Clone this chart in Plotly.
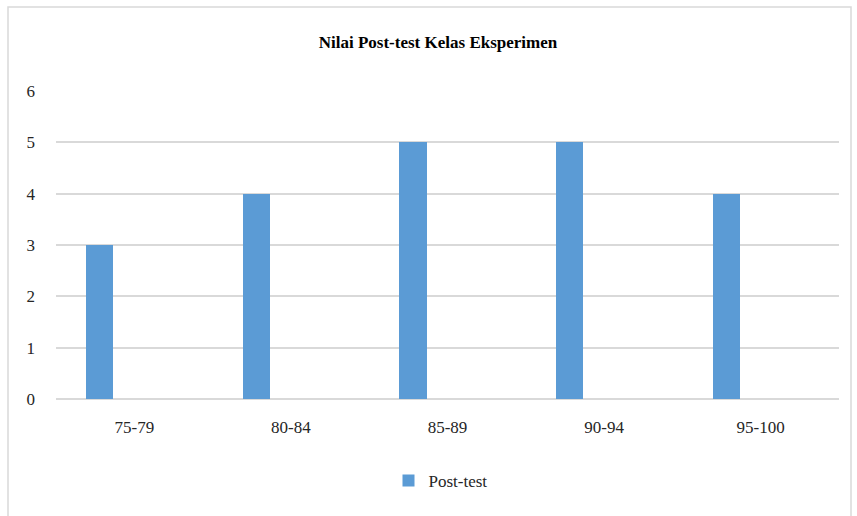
import plotly.graph_objects as go

categories = ["75-79", "80-84", "85-89", "90-94", "95-100"]
post_test = [3, 4, 5, 5, 4]
y_ticks = [0, 1, 2, 3, 4, 5, 6]

W, H = 857, 516
L, R, T, B = 56, 18, 91, 117
pw = W - L - R
ph = H - T - B
SERIF = "'Liberation Serif', 'DejaVu Serif', serif"

fig = go.Figure()
fig.add_trace(go.Bar(
    x=categories, y=post_test, name="Post-test",
    marker=dict(color="#5B9BD5", line=dict(width=0)),
    width=0.173, offset=-0.307,
))

def px_x(p):
    return (p - L) / pw

def px_y(p):
    return (H - B - p) / ph

fig.update_layout(
    width=W, height=H,
    margin=dict(l=L, r=R, t=T, b=B),
    paper_bgcolor="white", plot_bgcolor="white",
    font=dict(family=SERIF, size=17, color="#262626"),
    title=dict(text="<b>Nilai Post-test Kelas Eksperimen</b>",
               x=438 / W, xanchor="center", y=1 - 42 / H, yanchor="middle",
               font=dict(family=SERIF, size=17, color="black")),
    showlegend=True,
    legend=dict(orientation="h", x=0.5 - 7 / pw, xanchor="center",
                y=px_y(481), yanchor="middle",
                font=dict(family=SERIF, size=17, color="#262626")),
    bargap=0,
    shapes=[dict(type="rect", xref="paper", yref="paper",
                 x0=px_x(8), x1=px_x(851), y0=px_y(530), y1=px_y(7),
                 line=dict(color="#D9D9D9", width=1.5), fillcolor="rgba(0,0,0,0)",
                 layer="below")],
)
fig.update_xaxes(type="category", range=[-0.5, 4.5], showgrid=False,
                 showline=False, ticks="", ticklabelstandoff=16,
                 tickfont=dict(family=SERIF, size=17, color="#262626"))
fig.update_yaxes(range=[0, 6], tickvals=y_ticks, showgrid=True,
                 gridcolor="#D9D9D9", gridwidth=1.5, zeroline=True,
                 zerolinecolor="#D9D9D9", zerolinewidth=1.5,
                 showline=False, ticks="", ticklabelstandoff=20,
                 tickfont=dict(family=SERIF, size=17, color="#262626"))

fig.write_html("out.html", config={"displayModeBar": False},
               post_script="document.body.style.margin='0';")
